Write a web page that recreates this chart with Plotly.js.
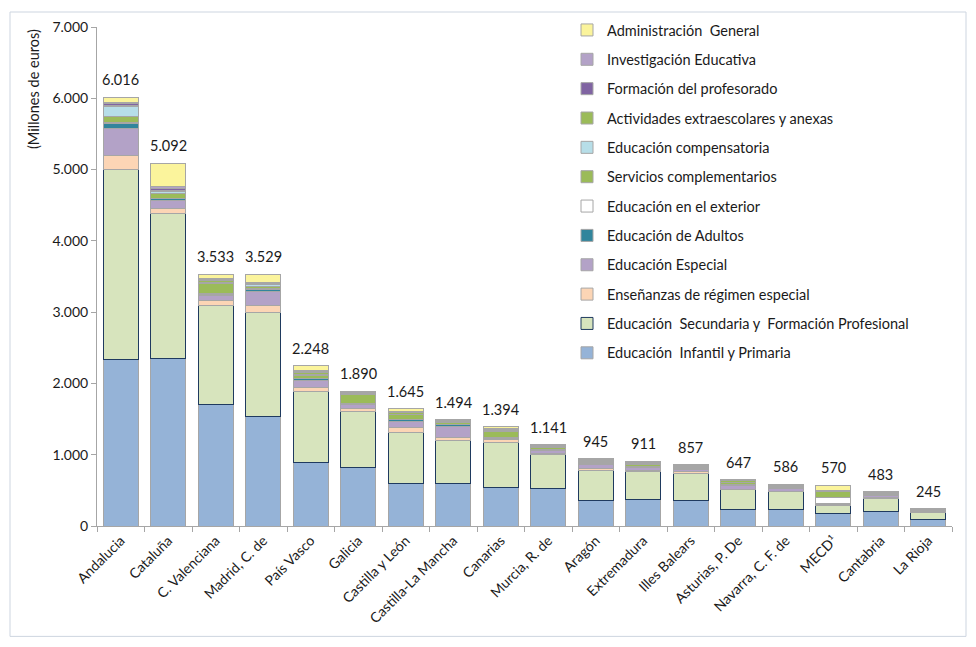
<!DOCTYPE html>
<html>
<head>
<meta charset="utf-8">
<script src="https://cdn.plot.ly/plotly-3.0.1.min.js"></script>
<style>
  html, body { margin: 0; padding: 0; background: #ffffff; }
  #chart { width: 976px; height: 647px; }
</style>
</head>
<body>
<div id="chart"></div>
<script>
// Gasto público en educación por comunidad autónoma (millones de euros)
const categories = [
  'Andalucia', 'Cataluña', 'C. Valenciana', 'Madrid, C. de', 'País Vasco',
  'Galicia', 'Castilla y León', 'Castilla-La Mancha', 'Canarias', 'Murcia, R. de',
  'Aragón', 'Extremadura', 'Illes Balears', 'Asturias, P. De', 'Navarra, C. F. de',
  'MECD¹', 'Cantabria', 'La Rioja'
];

// One array per spending item, in stacking order (bottom to top)
const infantilPrimaria   = [2331, 2349, 1704, 1536, 895, 825, 596, 596, 535, 521, 358, 372, 358, 236, 231, 171, 208, 91];
const secundariaFP       = [2665, 2034, 1384, 1463, 991, 781, 711, 599, 632, 482, 421, 388, 383, 272, 249, 121, 173, 103];
const regimenEspecial    = [204, 66, 79, 98, 61, 46, 68, 52, 40, 18, 22, 18, 20, 10, 10, 5, 22, 8];
const educacionEspecial  = [371, 112, 68, 188, 98, 48, 95, 145, 25, 40, 65, 42, 25, 45, 35, 5, 20, 10];
const educacionAdultos   = [78, 28, 18, 35, 20, 18, 25, 25, 10, 15, 15, 15, 12, 12, 15, 8, 12, 8];
const educacionExterior  = [5, 2, 2, 8, 5, 2, 5, 3, 3, 3, 3, 3, 3, 2, 2, 90, 2, 1];
const serviciosCompl     = [85, 72, 140, 25, 40, 128, 58, 30, 78, 20, 20, 25, 20, 35, 15, 85, 15, 8];
const compensatoria      = [150, 25, 15, 35, 15, 5, 10, 8, 10, 10, 8, 8, 8, 5, 5, 3, 5, 3];
const extraescolares     = [15, 15, 30, 15, 35, 12, 20, 15, 15, 15, 15, 12, 10, 15, 10, 10, 10, 5];
const formacionProf      = [20, 30, 15, 10, 10, 5, 10, 5, 8, 7, 6, 5, 5, 5, 5, 5, 5, 3];
const investigacion      = [22, 24, 15, 8, 10, 5, 7, 8, 8, 5, 6, 5, 5, 5, 4, 2, 3, 2];
const administracion     = [70, 335, 63, 108, 68, 15, 40, 8, 30, 5, 6, 18, 8, 5, 5, 65, 8, 3];

const seriesNames = [
  'Educación\u00a0 Infantil y Primaria',
  'Educación\u00a0 Secundaria y\u00a0 Formación Profesional',
  'Enseñanzas de régimen especial',
  'Educación Especial',
  'Educación de Adultos',
  'Educación en el exterior',
  'Servicios complementarios',
  'Educación compensatoria',
  'Actividades extraescolares y anexas',
  'Formación del profesorado',
  'Investigación Educativa',
  'Administración\u00a0 General'
];

const seriesValues = [
  infantilPrimaria, secundariaFP, regimenEspecial, educacionEspecial,
  educacionAdultos, educacionExterior, serviciosCompl, compensatoria,
  extraescolares, formacionProf, investigacion, administracion
];

const fillColors = [
  '#95B3D7', '#D7E4BD', '#FCD5B5', '#B3A2C7', '#31859C', '#FFFFFF',
  '#9BBB59', '#B7DEE8', '#9BBB59', '#8064A2', '#B3A2C7', '#FBF49C'
];
const edgeColors = [
  '#A6A6A6', '#1F3A5F', '#A6A6A6', '#A6A6A6', '#A6A6A6', '#A6A6A6',
  '#A6A6A6', '#A6A6A6', '#A6A6A6', '#A6A6A6', '#A6A6A6', '#A6A6A6'
];

const FONT = 'Lato, "Open Sans", "DejaVu Sans", sans-serif';
const N = seriesValues.length;

// Legend lists the top of the stack first
const traces = seriesValues.map((vals, i) => ({
  type: 'bar',
  name: seriesNames[i],
  x: categories,
  y: vals,
  legendgroup: 'g' + i,
  legendrank: 100 + (N - i),
  marker: { color: fillColors[i], line: { color: edgeColors[i], width: 1 } },
  hoverinfo: 'name+y'
}));

// Totals written above each stacked column
const totals = categories.map((_, c) => seriesValues.reduce((s, arr) => s + arr[c], 0));
const fmt = n => String(n).replace(/\B(?=(\d{3})+(?!\d))/g, '.');

const annotations = categories.map((cat, c) => ({
  x: cat, y: totals[c], xref: 'x', yref: 'y',
  text: fmt(totals[c]), showarrow: false,
  yanchor: 'bottom', yshift: 7,
  font: { family: FONT, size: 14.5, color: '#1a1a1a' }
}));

annotations.push({
  xref: 'paper', yref: 'paper',
  x: (33 - 97) / 855, y: 1.0,
  xanchor: 'center', yanchor: 'top',
  text: '(Millones de euros)', textangle: -90, showarrow: false,
  font: { family: FONT, size: 14.5, color: '#1a1a1a' }
});

const layout = {
  width: 976, height: 647,
  margin: { l: 97, r: 24, t: 27, b: 120.5 },
  paper_bgcolor: '#ffffff', plot_bgcolor: '#ffffff',
  separators: ',.',
  barmode: 'stack',
  bargap: 0.26,
  font: { family: FONT, size: 13, color: '#1a1a1a' },
  xaxis: {
    type: 'category',
    tickangle: -45,
    showline: true, linecolor: '#A6A6A6', linewidth: 1,
    ticks: 'outside', tickson: 'boundaries', ticklen: 5, tickcolor: '#A6A6A6',
    showgrid: false, zeroline: false,
    tickfont: { family: FONT, size: 14, color: '#1a1a1a' }
  },
  yaxis: {
    range: [0, 7000], dtick: 1000, tickformat: ',d',
    showline: true, linecolor: '#A6A6A6', linewidth: 1,
    ticks: 'outside', ticklen: 5, tickcolor: '#A6A6A6',
    showgrid: false, zeroline: false,
    tickfont: { family: FONT, size: 14, color: '#1a1a1a' }
  },
  showlegend: true,
  legend: {
    x: (567 - 97) / 855, xanchor: 'left',
    y: 1.026, yanchor: 'top',
    traceorder: 'grouped',
    tracegroupgap: 7.5,
    maxheight: 1,
    bgcolor: 'rgba(0,0,0,0)',
    font: { family: FONT, size: 14.5, color: '#1a1a1a' }
  },
  annotations: annotations,
  shapes: [{
    type: 'rect', xref: 'paper', yref: 'paper',
    x0: (10 - 97) / 855, x1: (966 - 97) / 855,
    y0: (526.5 - 637) / 499.5, y1: (526.5 - 12) / 499.5,
    line: { color: '#CDD5E0', width: 1 }, fillcolor: 'rgba(0,0,0,0)', layer: 'below'
  }]
};

Plotly.newPlot('chart', traces, layout, { displayModeBar: false, staticPlot: true });
</script>
</body>
</html>
